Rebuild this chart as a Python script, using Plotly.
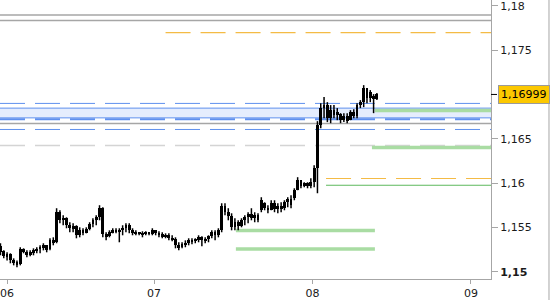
import plotly.graph_objects as go

# ---- data (30-minute bars, index = bar number) ----
bar_index = list(range(115))
open_ = [1.15219, 1.15230, 1.15174, 1.15196, 1.15128, 1.15106, 1.15083, 1.15253, 1.15219, 1.15185,
         1.15219, 1.15241, 1.15253, 1.15276, 1.15298, 1.15253, 1.15354, 1.15332, 1.15671, 1.15580,
         1.15603, 1.15524, 1.15490, 1.15512, 1.15411, 1.15467, 1.15433, 1.15479, 1.15535, 1.15580,
         1.15614, 1.15716, 1.15422, 1.15400, 1.15445, 1.15467, 1.15456, 1.15467, 1.15490, 1.15524,
         1.15467, 1.15433, 1.15445, 1.15422, 1.15433, 1.15445, 1.15422, 1.15467, 1.15433, 1.15422,
         1.15400, 1.15411, 1.15377, 1.15366, 1.15298, 1.15276, 1.15309, 1.15321, 1.15354, 1.15343,
         1.15366, 1.15388, 1.15354, 1.15366, 1.15400, 1.15445, 1.15411, 1.15467, 1.15738, 1.15671,
         1.15625, 1.15501, 1.15558, 1.15512, 1.15580, 1.15614, 1.15648, 1.15603, 1.15637, 1.15693,
         1.15772, 1.15716, 1.15693, 1.15772, 1.15704, 1.15738, 1.15716, 1.15783, 1.15817, 1.15829,
         1.15919, 1.16032, 1.15964, 1.15998, 1.15964, 1.16009, 1.16167, 1.16653, 1.16845, 1.16879,
         1.16732, 1.16822, 1.16766, 1.16777, 1.16709, 1.16754, 1.16709, 1.16800, 1.16754, 1.16879,
         1.16912, 1.17070, 1.16958, 1.16980, 1.16946]
high = [1.15321, 1.15241, 1.15219, 1.15208, 1.15151, 1.15128, 1.15276, 1.15264, 1.15241, 1.15241,
        1.15264, 1.15276, 1.15298, 1.15321, 1.15298, 1.15377, 1.15388, 1.15716, 1.15693, 1.15637,
        1.15614, 1.15558, 1.15546, 1.15524, 1.15501, 1.15490, 1.15501, 1.15558, 1.15603, 1.15637,
        1.15750, 1.15727, 1.15445, 1.15467, 1.15490, 1.15490, 1.15490, 1.15524, 1.15546, 1.15546,
        1.15490, 1.15467, 1.15445, 1.15456, 1.15456, 1.15445, 1.15490, 1.15467, 1.15456, 1.15445,
        1.15433, 1.15433, 1.15411, 1.15388, 1.15332, 1.15332, 1.15354, 1.15377, 1.15377, 1.15377,
        1.15411, 1.15400, 1.15388, 1.15411, 1.15467, 1.15467, 1.15490, 1.15772, 1.15772, 1.15716,
        1.15659, 1.15603, 1.15580, 1.15603, 1.15637, 1.15671, 1.15716, 1.15671, 1.15659, 1.15840,
        1.15783, 1.15750, 1.15806, 1.15806, 1.15772, 1.15783, 1.15806, 1.15840, 1.15862, 1.15941,
        1.16066, 1.16032, 1.16009, 1.16009, 1.16054, 1.16201, 1.16698, 1.16901, 1.16969, 1.16912,
        1.16879, 1.16879, 1.16845, 1.16788, 1.16788, 1.16788, 1.16822, 1.16833, 1.16901, 1.16935,
        1.17104, 1.17070, 1.17048, 1.17003, 1.17014]
low = [1.15185, 1.15151, 1.15128, 1.15095, 1.15072, 1.15050, 1.15072, 1.15208, 1.15162, 1.15174,
       1.15185, 1.15208, 1.15208, 1.15241, 1.15219, 1.15241, 1.15298, 1.15321, 1.15546, 1.15524,
       1.15490, 1.15445, 1.15445, 1.15377, 1.15388, 1.15411, 1.15433, 1.15467, 1.15501, 1.15524,
       1.15580, 1.15388, 1.15354, 1.15388, 1.15433, 1.15433, 1.15332, 1.15411, 1.15445, 1.15433,
       1.15411, 1.15411, 1.15411, 1.15388, 1.15411, 1.15411, 1.15411, 1.15411, 1.15388, 1.15377,
       1.15377, 1.15354, 1.15343, 1.15264, 1.15241, 1.15264, 1.15276, 1.15298, 1.15309, 1.15321,
       1.15332, 1.15287, 1.15321, 1.15332, 1.15377, 1.15354, 1.15388, 1.15445, 1.15637, 1.15580,
       1.15467, 1.15467, 1.15467, 1.15501, 1.15524, 1.15546, 1.15580, 1.15558, 1.15558, 1.15671,
       1.15693, 1.15659, 1.15693, 1.15671, 1.15659, 1.15671, 1.15693, 1.15727, 1.15716, 1.15806,
       1.15919, 1.15941, 1.15953, 1.15941, 1.15941, 1.15953, 1.15885, 1.16619, 1.16732, 1.16687,
       1.16675, 1.16732, 1.16709, 1.16675, 1.16687, 1.16675, 1.16709, 1.16732, 1.16732, 1.16845,
       1.16856, 1.16901, 1.16912, 1.16788, 1.16935]
close = [1.15287, 1.15174, 1.15196, 1.15128, 1.15106, 1.15072, 1.15253, 1.15219, 1.15185, 1.15219,
         1.15241, 1.15253, 1.15276, 1.15298, 1.15241, 1.15354, 1.15332, 1.15671, 1.15580, 1.15603,
         1.15524, 1.15490, 1.15512, 1.15411, 1.15467, 1.15433, 1.15479, 1.15535, 1.15580, 1.15614,
         1.15716, 1.15422, 1.15400, 1.15445, 1.15467, 1.15456, 1.15467, 1.15490, 1.15524, 1.15467,
         1.15433, 1.15445, 1.15422, 1.15433, 1.15445, 1.15422, 1.15467, 1.15433, 1.15422, 1.15400,
         1.15411, 1.15377, 1.15366, 1.15298, 1.15276, 1.15309, 1.15321, 1.15354, 1.15343, 1.15366,
         1.15388, 1.15354, 1.15366, 1.15400, 1.15445, 1.15411, 1.15467, 1.15738, 1.15671, 1.15625,
         1.15501, 1.15558, 1.15512, 1.15580, 1.15614, 1.15648, 1.15603, 1.15637, 1.15580, 1.15806,
         1.15716, 1.15693, 1.15772, 1.15704, 1.15738, 1.15716, 1.15783, 1.15817, 1.15750, 1.15919,
         1.16032, 1.15964, 1.15998, 1.15964, 1.16009, 1.16167, 1.16653, 1.16845, 1.16879, 1.16732,
         1.16822, 1.16766, 1.16800, 1.16709, 1.16754, 1.16698, 1.16800, 1.16754, 1.16879, 1.16912,
         1.17070, 1.16958, 1.17025, 1.16946, 1.16999]

day_ticks = [2.0, 46.5, 94.5, 142.5]
day_labels = ["06", "07", "08", "09"]
x_range = [-0.14, 148.56]

price_ticks = [1.15, 1.155, 1.16, 1.165, 1.175, 1.18]
price_labels = ["<b>1,15</b>", "1,155", "1,16", "1,165", "1,175", "1,18"]
y_range = [1.14918, 1.18064]

# horizontal levels
gray_solid_levels = [1.17894, 1.17834, 1.16672]
blue_dashed_levels = [1.16898, 1.16604]
blue_zone = [1.16735, 1.16845]
blue_zone_dashed = 1.16720
gray_dashed_level = 1.16424
orange_dashed = [(50.0, 1.17696), (98.6, 1.16051)]
green_thin = [(98.6, 1.15975)]
green_thick = [(112.5, 148.56, 1.16401), (113.4, 148.56, 1.16819),
               (71.3, 113.4, 1.15464), (71.3, 113.4, 1.15256)]

last_price = close[-1]

# ---- figure ----
fig = go.Figure()

body_base = [min(o, c) for o, c in zip(open_, close)]
body_h = [abs(c - o) for o, c in zip(open_, close)]
fig.add_trace(go.Bar(x=bar_index, y=body_h, base=body_base, width=0.85,
                     marker=dict(color="black", line=dict(width=0)),
                     showlegend=False, hoverinfo="skip"))

wx, wy = [], []
for i, h, l in zip(bar_index, high, low):
    wx += [i, i, None]
    wy += [l, h, None]
fig.add_trace(go.Scatter(x=wx, y=wy, mode="lines",
                         line=dict(color="black", width=1.5),
                         showlegend=False, hoverinfo="skip"))

shapes = []
BLUE = "#5f90ee"
DASH = "25px,10px"


def hline(y, color, width, dash="solid", x0=0, x1=1, xref="paper"):
    return dict(type="line", xref=xref, x0=x0, x1=x1, yref="y", y0=y, y1=y,
                line=dict(color=color, width=width, dash=dash), layer="below")


# blue zone
shapes.append(dict(type="rect", xref="paper", x0=0, x1=1, yref="y",
                   y0=blue_zone[0], y1=blue_zone[1], fillcolor="#e5edfd",
                   line=dict(width=0), layer="below"))
shapes.append(hline(blue_zone[0], BLUE, 1))
shapes.append(hline(blue_zone[1], BLUE, 1))
shapes.append(hline(blue_zone_dashed, BLUE, 2, DASH))
for v in blue_dashed_levels:
    shapes.append(hline(v, BLUE, 1, DASH))
for v in gray_solid_levels:
    shapes.append(hline(v, "#a6a6a6", 1.5))
shapes.append(hline(gray_dashed_level, "#d4d4d4", 1.5, DASH))
for x0, v in orange_dashed:
    shapes.append(hline(v, "#f4bb45", 1.2, DASH, x0, x_range[1], "x"))
for x0, v in green_thin:
    shapes.append(hline(v, "#5cb85c", 1.2, "solid", x0, x_range[1], "x"))
for x0, x1, v in green_thick:
    shapes.append(hline(v, "#a9dca3", 3.5, "solid", x0, x1, "x"))
# last-price tick and right border
shapes.append(dict(type="line", xref="paper", x0=1.0, x1=1.0122, yref="y",
                   y0=last_price, y1=last_price, line=dict(color="black", width=1)))
shapes.append(dict(type="line", xref="paper", x0=1.1181, x1=1.1181, yref="paper",
                   y0=-0.08, y1=1.0, line=dict(color="#a6a6a6", width=1)))

fig.update_layout(
    width=550, height=300,
    margin=dict(l=0, r=59, t=0, b=21),
    paper_bgcolor="white", plot_bgcolor="white",
    font=dict(family="DejaVu Sans", size=11, color="#1a1a1a"),
    separators=", ",
    bargap=0,
    shapes=shapes,
    showlegend=False,
    xaxis=dict(range=x_range, tickvals=day_ticks, ticktext=day_labels,
               ticks="outside", ticklen=4, tickcolor="#a6a6a6", showline=True,
               linecolor="#a6a6a6", linewidth=1, showgrid=False, zeroline=False,
               fixedrange=True, ticklabeloverflow="allow"),
    yaxis=dict(range=y_range, side="right", tickvals=price_ticks, ticktext=price_labels,
               ticks="outside", ticklen=6, tickcolor="#a6a6a6", showline=True,
               linecolor="#a6a6a6", linewidth=1, showgrid=False, zeroline=False,
               fixedrange=True, ticklabeloverflow="allow"),
    annotations=[dict(xref="paper", x=1.0143, xanchor="left", yref="y", y=last_price,
                      yanchor="middle", text=f"{last_price:.5f}".replace(".", ","),
                      showarrow=False, bgcolor="#fcc800", bordercolor="#9a9a9a",
                      borderwidth=1, borderpad=2,
                      font=dict(family="DejaVu Sans", size=11, color="black"))],
)

fig.write_html("out.html", config={"displayModeBar": False})
